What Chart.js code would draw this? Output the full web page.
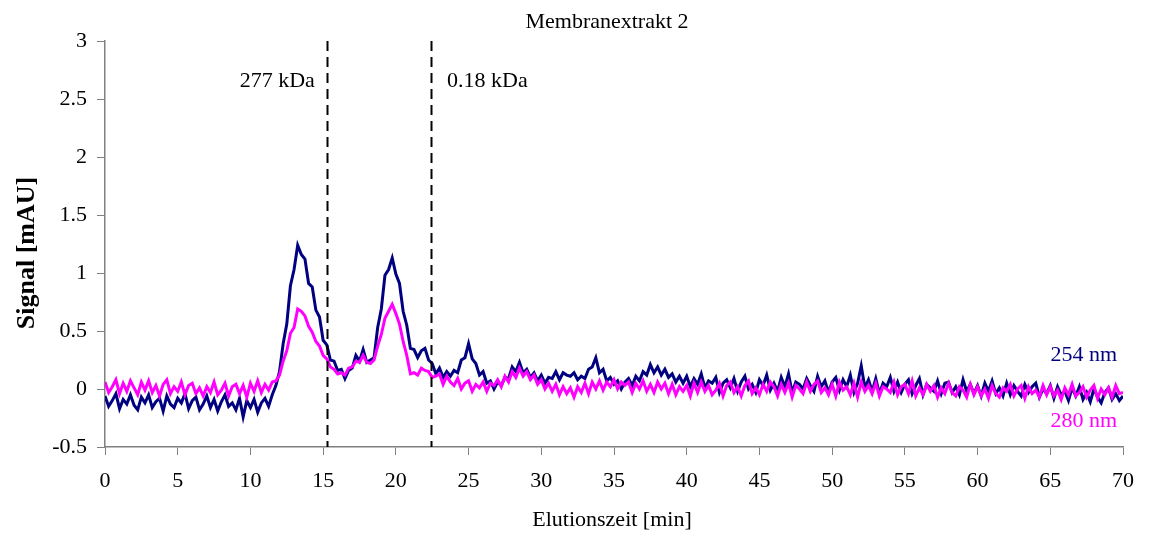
<!DOCTYPE html>
<html>
<head>
<meta charset="utf-8">
<title>Membranextrakt 2</title>
<script src="https://cdn.jsdelivr.net/npm/chart.js@4"></script>
<style>
  html, body { margin: 0; padding: 0; background: #fff; }
  #wrap { width: 1149px; height: 536px; position: relative; }
</style>
</head>
<body>
<div id="wrap"><canvas id="chromChart"></canvas></div>
<script>
// Elution profile sampled every 0.25 min, 0..70 min
const timeStep = 0.25;
const xTicks = [0, 5, 10, 15, 20, 25, 30, 35, 40, 45, 50, 55, 60, 65, 70];
const yTicks = [-0.5, 0, 0.5, 1, 1.5, 2, 2.5, 3];

// 254 nm trace (one row per minute)
const signal254 = [
  -0.06, -0.15, -0.10, -0.04,
  -0.17, -0.09, -0.13, -0.05,
  -0.14, -0.18, -0.07, -0.12,
  -0.05, -0.16, -0.11, -0.08,
  -0.19, -0.06, -0.13, -0.16,
  -0.08, -0.12, -0.04, -0.17,
  -0.10, -0.07, -0.18, -0.13,
  -0.06, -0.16, -0.09, -0.19,
  -0.11, -0.05, -0.15, -0.12,
  -0.18, -0.08, -0.24, -0.10,
  -0.16, -0.09, -0.20, -0.12,
  -0.08, -0.15, -0.05, 0.03,
  0.15, 0.39, 0.56, 0.89,
  1.03, 1.24, 1.16, 1.12,
  0.91, 0.88, 0.68, 0.62,
  0.42, 0.38, 0.25, 0.24,
  0.16, 0.17, 0.09, 0.16,
  0.18, 0.29, 0.24, 0.34,
  0.23, 0.25, 0.27, 0.53,
  0.69, 0.98, 1.03, 1.13,
  0.99, 0.91, 0.67, 0.55,
  0.35, 0.34, 0.27, 0.33,
  0.35, 0.25, 0.22, 0.13,
  0.18, 0.10, 0.15, 0.11,
  0.16, 0.14, 0.25, 0.27,
  0.39, 0.26, 0.22, 0.12,
  0.15, 0.05, 0.07, 0.00,
  0.06, 0.03, 0.10, 0.09,
  0.19, 0.15, 0.23, 0.14,
  0.17, 0.10, 0.14, 0.07,
  0.12, 0.05, 0.10, 0.09,
  0.15, 0.08, 0.14, 0.12,
  0.11, 0.14, 0.08, 0.11,
  0.09, 0.17, 0.19, 0.27,
  0.14, 0.17, 0.07, 0.10,
  0.04, 0.07, 0.00, 0.06,
  0.09, 0.03, 0.11, 0.07,
  0.15, 0.12, 0.21, 0.14,
  0.19, 0.12, 0.17, 0.10,
  0.13, 0.06, 0.11, 0.05,
  0.11, 0.02, 0.09, 0.04,
  0.13, 0.01, 0.07, 0.05,
  0.10, -0.03, 0.05, 0.08,
  0.01, 0.09, -0.02, 0.06,
  0.11, 0.00, 0.04, -0.03,
  0.08, 0.03, 0.12, -0.01,
  0.05, -0.02, 0.10, 0.02,
  0.13, -0.03, 0.06, 0.04,
  0.00, 0.09, 0.03, -0.02,
  0.11, 0.02, 0.07, -0.03,
  0.06, 0.10, -0.01, 0.08,
  0.02, 0.12, -0.03, 0.05,
  0.20, 0.01, 0.08, -0.02,
  0.09, -0.04, 0.05, 0.02,
  0.10, -0.02, 0.06, -0.03,
  0.04, 0.08, -0.04, 0.03,
  0.09, -0.05, 0.04, 0.01,
  -0.02, 0.07, -0.04, 0.05,
  0.06, -0.03, 0.02, -0.05,
  0.08, -0.02, 0.04, -0.04,
  0.03, -0.06, 0.05, -0.02,
  0.07, -0.04, 0.01, -0.06,
  0.05, -0.05, 0.03, -0.02,
  -0.06, 0.04, -0.03, 0.02,
  0.05, -0.07, 0.00, -0.04,
  0.03, -0.08, 0.02, -0.05,
  -0.02, -0.10, 0.01, -0.06,
  0.02, -0.09, -0.03, -0.11,
  0.00, -0.07, -0.12, -0.03,
  0.01, -0.09, -0.04, -0.10,
  -0.06
];

// 280 nm trace
const signal280 = [
  0.06, -0.03, 0.02, 0.08,
  -0.04, 0.05, -0.02, 0.07,
  0.01, -0.05, 0.06, -0.01,
  0.07, -0.03, 0.03, -0.06,
  0.04, 0.08, -0.04, 0.02,
  -0.02, 0.06, -0.05, 0.03,
  0.05, -0.04, 0.01, -0.06,
  0.02, -0.03, 0.06, -0.05,
  -0.01, 0.05, -0.06, 0.02,
  0.04, -0.04, 0.03, -0.07,
  0.05, -0.02, 0.07, -0.03,
  0.04, -0.01, 0.06, 0.07,
  0.12, 0.24, 0.33, 0.48,
  0.53, 0.69, 0.67, 0.63,
  0.54, 0.49, 0.41, 0.37,
  0.29, 0.26, 0.19, 0.17,
  0.13, 0.14, 0.12, 0.18,
  0.19, 0.24, 0.23, 0.29,
  0.23, 0.22, 0.25, 0.37,
  0.47, 0.61, 0.67, 0.73,
  0.65, 0.56, 0.41, 0.29,
  0.13, 0.14, 0.12, 0.18,
  0.16, 0.15, 0.10, 0.11,
  0.13, 0.04, 0.11, 0.06,
  0.03, 0.09, 0.00, 0.05,
  0.07, -0.02, 0.04, 0.01,
  0.06, -0.02, 0.05, 0.03,
  0.08, 0.02, 0.11, 0.06,
  0.15, 0.10, 0.18, 0.11,
  0.15, 0.08, 0.12, 0.04,
  0.08, 0.00, 0.05, -0.02,
  0.04, -0.05, 0.02, -0.04,
  0.01, -0.07, 0.02, -0.03,
  0.05, -0.04, 0.06, 0.00,
  0.07, -0.01, 0.06, 0.02,
  0.08, 0.00, 0.06, 0.03,
  0.06, -0.03, 0.05, 0.00,
  0.07, -0.02, 0.04, -0.03,
  0.06, 0.00, 0.05, -0.04,
  0.04, -0.05, 0.02, -0.02,
  0.03, -0.06, 0.05, -0.03,
  0.06, -0.02, 0.03, -0.05,
  -0.01, 0.05, -0.06, 0.03,
  0.06, -0.03, 0.02, -0.06,
  0.03, 0.07, -0.04, 0.01,
  -0.05, 0.04, -0.02, 0.06,
  0.02, -0.06, 0.04, -0.03,
  0.05, -0.07, 0.03, 0.00,
  -0.04, 0.06, -0.02, 0.04,
  0.07, -0.03, 0.01, -0.05,
  0.04, -0.06, 0.06, -0.01,
  0.02, -0.05, 0.05, -0.07,
  0.06, -0.02, 0.03, -0.04,
  0.05, -0.06, 0.02, 0.00,
  -0.03, 0.06, -0.05, 0.02,
  0.04, -0.04, 0.07, -0.06,
  0.01, -0.05, 0.04, -0.02,
  0.03, -0.07, 0.01, -0.04,
  0.05, -0.03, -0.06, 0.02,
  -0.01, -0.07, 0.04, -0.05,
  0.02, -0.06, 0.00, -0.08,
  0.03, -0.04, -0.07, 0.01,
  -0.02, 0.04, -0.06, 0.00,
  0.03, -0.08, 0.02, -0.04,
  -0.01, -0.07, 0.03, -0.05,
  0.02, -0.06, -0.01, -0.09,
  0.01, -0.05, 0.04, -0.06,
  -0.03, 0.02, -0.07, -0.01,
  0.03, -0.08, 0.00, -0.05,
  0.01, -0.07, 0.03, -0.04,
  -0.03
];

// Size-marker positions (min) and their labels
const markerTimes = [15.25, 22.42];
const markerLabels = ['277 kDa', '0.18 kDa'];

const traceNames = ['254 nm', '280 nm'];
const traceColors = ['#000080', '#ff00ff'];

const toPoints = arr => arr.map((v, i) => ({ x: i * timeStep, y: v }));

const SERIF = '"Liberation Serif", "DejaVu Serif", serif';

// dashed markers, titles and trace labels
const overlay = {
  id: 'overlay',
  afterDatasetsDraw(chart) {
    const { ctx, chartArea, scales } = chart;
    const xs = scales.x, ys = scales.y;
    ctx.save();

    ctx.strokeStyle = '#000';
    ctx.lineWidth = 2;
    ctx.setLineDash([10, 6]);
    markerTimes.forEach(t => {
      const px = Math.round(xs.getPixelForValue(t)) + 0.5;
      ctx.beginPath();
      ctx.moveTo(px, chartArea.top);
      ctx.lineTo(px, chartArea.bottom);
      ctx.stroke();
    });
    ctx.setLineDash([]);

    ctx.fillStyle = '#000';
    ctx.font = '22px ' + SERIF;
    ctx.textBaseline = 'middle';
    const labelY = ys.getPixelForValue(2.65);
    ctx.textAlign = 'right';
    ctx.fillText(markerLabels[0], xs.getPixelForValue(markerTimes[0]) - 12, labelY);
    ctx.textAlign = 'left';
    ctx.fillText(markerLabels[1], xs.getPixelForValue(markerTimes[1]) + 16, labelY);

    // trace labels at the right end
    ctx.textAlign = 'right';
    ctx.fillStyle = traceColors[0];
    ctx.fillText(traceNames[0], chartArea.right - 6, ys.getPixelForValue(0.29));
    ctx.fillStyle = traceColors[1];
    ctx.fillText(traceNames[1], chartArea.right - 6, ys.getPixelForValue(-0.28));

    // chart title
    ctx.fillStyle = '#000';
    ctx.textAlign = 'center';
    ctx.font = '22px ' + SERIF;
    ctx.fillText('Membranextrakt 2', 607, 22);

    // axis titles
    ctx.fillText('Elutionszeit [min]', 612, 520);

    ctx.translate(27, 253);
    ctx.rotate(-Math.PI / 2);
    ctx.font = 'bold 26px ' + SERIF;
    ctx.fillText('Signal [mAU]', 0, 0);
    ctx.restore();
  }
};

new Chart(document.getElementById('chromChart'), {
  type: 'line',
  data: {
    datasets: [
      {
        label: traceNames[0],
        data: toPoints(signal254),
        borderColor: traceColors[0],
        borderWidth: 3,
        pointRadius: 0,
        tension: 0,
        order: 2
      },
      {
        label: traceNames[1],
        data: toPoints(signal280),
        borderColor: traceColors[1],
        borderWidth: 3,
        pointRadius: 0,
        tension: 0,
        order: 1
      }
    ]
  },
  options: {
    responsive: true,
    maintainAspectRatio: false,
    devicePixelRatio: 1,
    animation: false,
    layout: { padding: { left: 0, right: 26, top: 41, bottom: 0 } },
    plugins: {
      legend: { display: false },
      title: { display: false },
      tooltip: { enabled: false }
    },
    scales: {
      x: {
        type: 'linear',
        min: 0,
        max: 70,
        afterBuildTicks: s => { s.ticks = xTicks.map(v => ({ value: v })); },
        afterFit: s => { s.height = 89; },
        border: { display: true, color: '#808080', width: 1.5 },
        grid: { display: true, drawOnChartArea: false, drawTicks: true, tickLength: 8, color: '#808080' },
        ticks: {
          color: '#000',
          padding: 13,
          maxRotation: 0,
          callback: v => String(v),
          font: { family: SERIF, size: 22 }
        }
      },
      y: {
        type: 'linear',
        min: -0.5,
        max: 3,
        afterBuildTicks: s => { s.ticks = yTicks.map(v => ({ value: v })); },
        afterFit: s => { s.width = 105; },
        border: { display: true, color: '#808080', width: 1.5 },
        grid: { display: true, drawOnChartArea: false, drawTicks: true, tickLength: 8, color: '#808080' },
        ticks: {
          color: '#000',
          padding: 10,
          callback: v => String(v),
          font: { family: SERIF, size: 22 }
        }
      }
    }
  },
  plugins: [overlay]
});
</script>
</body>
</html>
